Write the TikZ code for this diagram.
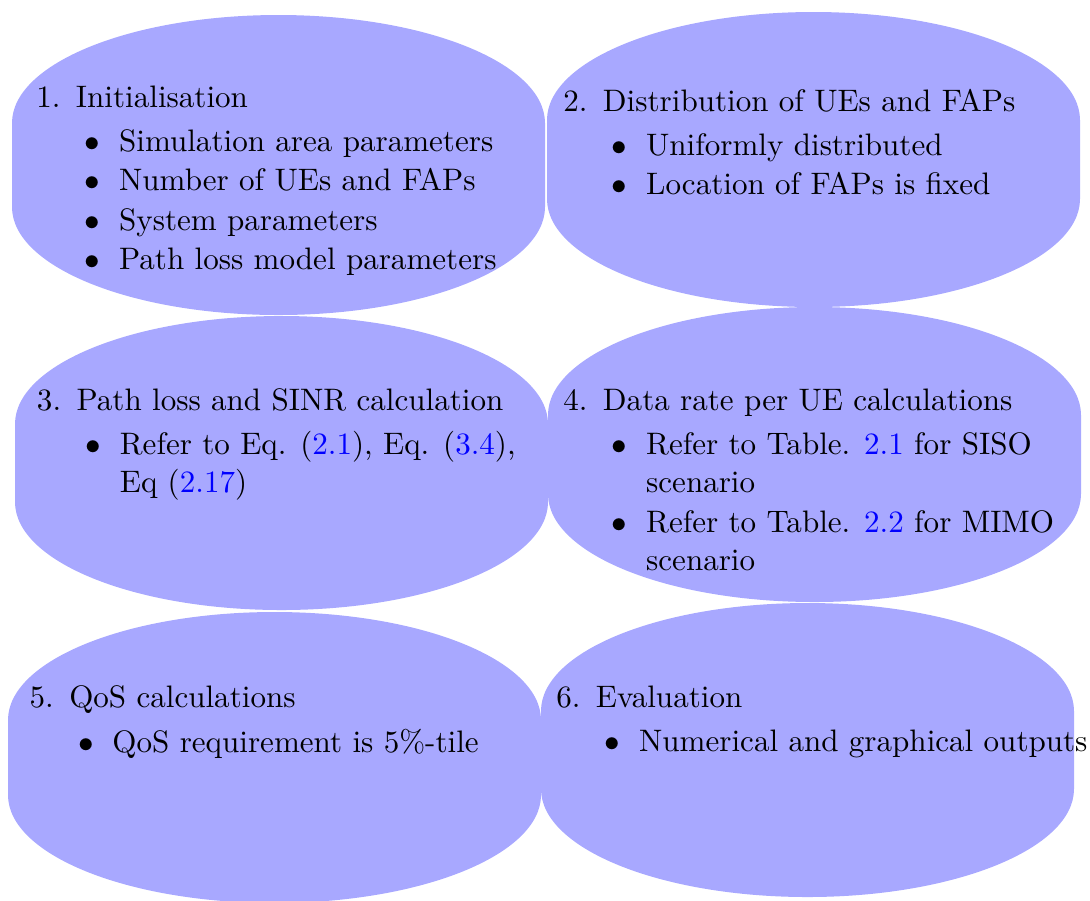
\documentclass[tikz,border=0pt]{standalone}
\usepackage{xcolor}
\usepackage{enumitem}
\setlist[enumerate]{leftmargin=25pt,labelsep=5pt,topsep=0pt,partopsep=0pt,itemsep=0pt,parsep=0pt}
\setlist[itemize]{label=$\bullet$,leftmargin=13.9pt,labelsep=6pt,topsep=2.1pt,partopsep=0pt,itemsep=0.3pt,parsep=0pt}
\newcommand{\lnk}[1]{\textcolor{blue}{#1}}
\newcommand{\boxtext}[2]{\begin{minipage}[t]{#1}\fontsize{10}{12.3}\selectfont\raggedright\hyphenpenalty=10000 #2\end{minipage}}
\def\px{0.32185pt}
\begin{document}
\begin{tikzpicture}[x=0.32185pt,y=-0.32185pt,
  blobfill/.style={fill=blue!34},
  txt/.style={inner sep=0pt,outer sep=0pt,anchor=base west,text=black}]
\useasboundingbox (0,0) rectangle (1090,900);
% blob shapes: (left, top-of-straight) arc over top, down right side, arc under bottom
\newcommand{\blobshape}[4]{%
  \path[blobfill] (#1,#3+108) arc[start angle=180,end angle=0,x radius={(#2-#1)/2*\px},y radius={108*\px}]
     -- (#2,#4-108) arc[start angle=0,end angle=-180,x radius={(#2-#1)/2*\px},y radius={108*\px}] -- cycle;}
\blobshape{12}{545}{15}{315}
\blobshape{547}{1080}{12}{307}
\blobshape{15}{548}{316}{610}
\blobshape{548}{1081}{307}{602}
\blobshape{8}{541}{612}{903}
\blobshape{541}{1074}{603}{897}

\node[txt] (t1) at (-1.7,107) {\boxtext{190pt}{\begin{enumerate}[start=1]
  \item Initialisation
  \begin{itemize}
    \item Simulation area parameters
    \item Number of UEs and FAPs
    \item System parameters
    \item Path loss model parameters
  \end{itemize}
\end{enumerate}}};

\node[txt] (t2) at (525.3,111) {\boxtext{190pt}{\begin{enumerate}[start=2]
  \item Distribution of UEs and FAPs
  \begin{itemize}
    \item Uniformly distributed
    \item Location of FAPs is fixed
  \end{itemize}
\end{enumerate}}};

\node[txt] (t3) at (-1,410) {\boxtext{170.6pt}{\begin{enumerate}[start=3]
  \item Path loss and SINR calculation
  \begin{itemize}
    \item Refer to Eq. (\lnk{2.1}), Eq. (\lnk{3.4}), Eq (\lnk{2.17})
  \end{itemize}
\end{enumerate}}};

\node[txt] (t4) at (525.3,410) {\boxtext{190pt}{\begin{enumerate}[start=4]
  \item Data rate per UE calculations
  \begin{itemize}
    \item Refer to Table. \lnk{2.1} for SISO scenario
    \item Refer to Table. \lnk{2.2} for MIMO scenario
  \end{itemize}
\end{enumerate}}};

\node[txt] (t5) at (-8.4,707.7) {\boxtext{190pt}{\begin{enumerate}[start=5]
  \item QoS calculations
  \begin{itemize}
    \item QoS requirement is 5\%-tile
  \end{itemize}
\end{enumerate}}};

\node[txt] (t6) at (518.3,707) {\boxtext{190pt}{\begin{enumerate}[start=6]
  \item Evaluation
  \begin{itemize}
    \item Numerical and graphical outputs
  \end{itemize}
\end{enumerate}}};
\end{tikzpicture}
\end{document}
